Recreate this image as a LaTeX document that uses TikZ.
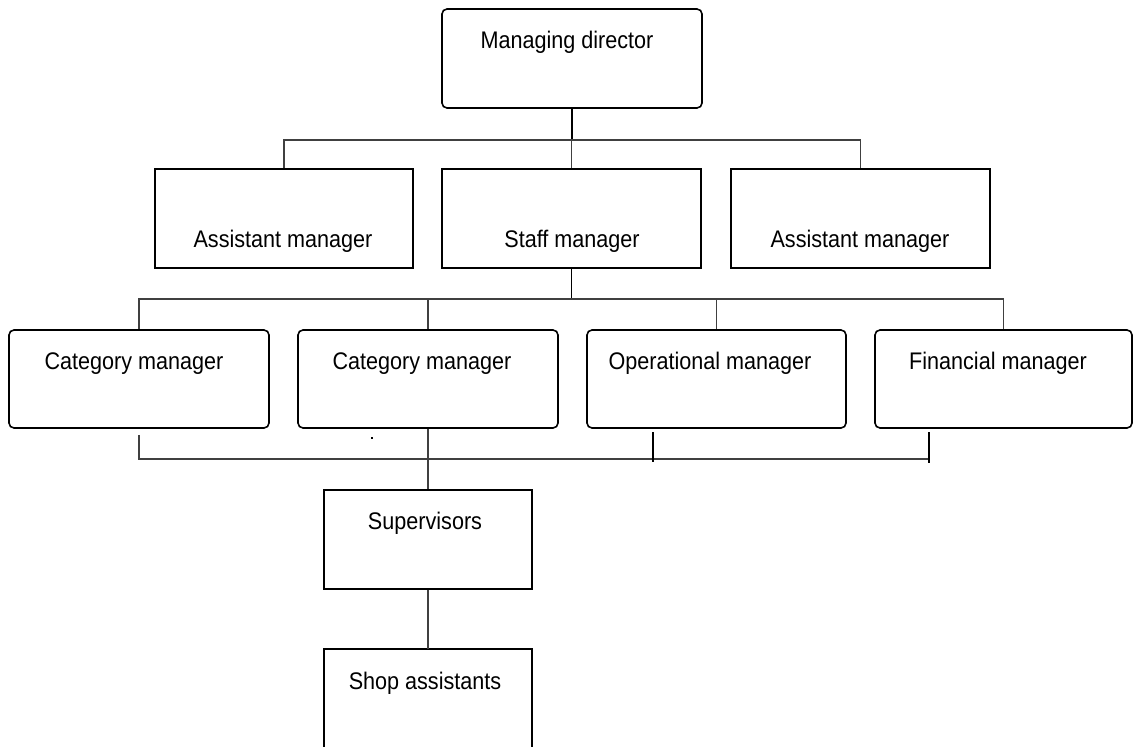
\documentclass[tikz,border=0pt]{standalone}
\usepackage{fontspec}
\setmainfont{Liberation Sans}[FakeStretch=0.9]
\begin{document}
\begin{tikzpicture}[x=1pt,y=-1pt,
  font=\fontsize{24}{28}\selectfont,
  bx/.style={draw=black, line width=1.6pt, inner sep=0pt},
  rbx/.style={bx, rounded corners=5pt},
  open/.style={inner sep=0pt},
  lbl/.style={anchor=base, inner sep=0pt},
  con/.style={draw=black!75, line width=1.2pt},
  conB/.style={draw=black, line width=1.8pt}]
\useasboundingbox (0,0) rectangle (1133,747);
% boxes
\node[rbx, minimum width=260pt, minimum height=99pt] (md) at (572,58.5) {};
\node[bx, minimum width=258pt, minimum height=99pt] (am1) at (284,218.5) {};
\node[bx, minimum width=259pt, minimum height=99pt] (sm) at (571.5,218.5) {};
\node[bx, minimum width=259pt, minimum height=99pt] (am2) at (860.5,218.5) {};
\node[rbx, minimum width=260pt, minimum height=98pt] (cm1) at (139,379) {};
\node[rbx, minimum width=260pt, minimum height=98pt] (cm2) at (428,379) {};
\node[rbx, minimum width=259pt, minimum height=98pt] (om) at (716.5,379) {};
\node[rbx, minimum width=257pt, minimum height=98pt] (fm) at (1003.5,379) {};
\node[bx, minimum width=208pt, minimum height=99pt] (sup) at (428,539.5) {};
\node[open, minimum width=208pt, minimum height=98pt] (sa) at (428,698) {};
\draw[line width=1.6pt] (sa.south west) -- (sa.north west) -- (sa.north east) -- (sa.south east);
% labels
\node[lbl] (mdT) at (567,48) {Managing director};
\node[lbl] (am1T) at (283,247) {Assistant manager};
\node[lbl] (smT) at (572,247) {Staff manager};
\node[lbl] (am2T) at (860,247) {Assistant manager};
\node[lbl] (cm1T) at (134,369) {Category manager};
\node[lbl] (cm2T) at (422,369) {Category manager};
\node[lbl] (omT) at (710,369) {Operational manager};
\node[lbl] (fmT) at (998,369) {Financial manager};
\node[lbl] (supT) at (425,529) {Supervisors};
\node[lbl] (saT) at (425,689) {Shop assistants};
% connectors level 1
\coordinate (bus1) at (572,140);
\draw[conB] (md.south) -- (bus1);
\draw[con] (am1.north) -- (am1.north |- bus1) -- (am2.north |- bus1) -- (am2.north);
\draw[con] (sm.north) -- (sm.north |- bus1);
% connectors level 2
\coordinate (bus2) at (572,299);
\draw[conB] (sm.south) -- (sm.south |- bus2);
\draw[con] (cm1.north) -- (cm1.north |- bus2) -- (fm.north |- bus2) -- (fm.north);
\draw[con] (cm2.north) -- (cm2.north |- bus2);
\draw[con] (om.north) -- (om.north |- bus2);
% bottom bracket
\coordinate (bus3) at (428,459);
\coordinate (t3) at (653,432);
\coordinate (t4) at (929,432);
\draw[con] ([yshift=-6pt]cm1.south) -- (cm1.south |- bus3) -- (t4 |- bus3);
\draw[conB] (t3) -- ++(0,30);
\draw[conB] (t4) -- ++(0,31);
\draw[con] (cm2.south) -- (sup.north);
\draw[con] (sup.south) -- (sa.north);
\fill (371,437) rectangle (373,439);
\end{tikzpicture}
\end{document}
